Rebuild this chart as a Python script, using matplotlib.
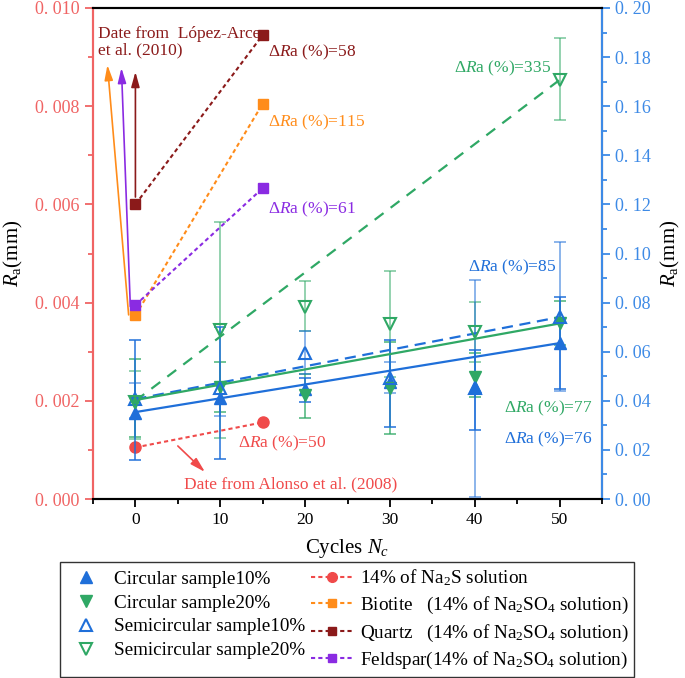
import matplotlib
matplotlib.use("Agg")
import matplotlib.pyplot as plt
from matplotlib.lines import Line2D
from matplotlib.ticker import MultipleLocator, FuncFormatter

plt.rcParams['font.family'] = ['Liberation Serif', 'DejaVu Serif']
plt.rcParams['mathtext.fontset'] = 'custom'
plt.rcParams['mathtext.rm'] = 'Liberation Serif'
plt.rcParams['mathtext.it'] = 'Liberation Serif:italic'
plt.rcParams['mathtext.bf'] = 'Liberation Serif:bold'

# ---------------- data ----------------
cycles = [0, 10, 20, 30, 40, 50]

c10 = [0.0352, 0.0411, 0.0450, 0.0477, 0.0455, 0.0635]
c10_lo = [0.0159, 0.0163, 0.0395, 0.0293, 0.0281, 0.0448]
c10_hi = [0.0648, 0.0700, 0.0493, 0.0648, 0.0607, 0.0823]

c20 = [0.0395, 0.0456, 0.0424, 0.0452, 0.0497, 0.0717]
c20_lo = [0.0253, 0.0354, 0.0330, 0.0265, 0.0415, 0.0627]
c20_hi = [0.0570, 0.0558, 0.0509, 0.0640, 0.0595, 0.0807]

s10 = [0.0407, 0.0452, 0.0595, 0.0493, 0.0452, 0.0741]
s10_lo = [0.0330, 0.0340, 0.0509, 0.0432, 0.0010, 0.0440]
s10_hi = [0.0473, 0.0468, 0.0684, 0.0560, 0.0892, 0.1047]

s20 = [0.0395, 0.0688, 0.0782, 0.0713, 0.0680, 0.1707]
s20_lo = [0.0244, 0.0248, 0.0684, 0.0497, 0.0558, 0.1544]
s20_hi = [0.0521, 0.1128, 0.0888, 0.0929, 0.0802, 0.1878]

trend_x = [0, 50]
trend_c10 = [0.0354, 0.0635]
trend_c20 = [0.0403, 0.0715]
trend_s10 = [0.0407, 0.0741]
trend_s20 = [0.0400, 0.1707]

lit_x = [0, 15]
alonso = [0.00105, 0.00156]
biotite = [0.00374, 0.00805]
quartz = [0.00600, 0.00945]
feldspar = [0.00395, 0.00633]

labels_samples = ["Circular sample10%", "Circular sample20%",
                  "Semicircular sample10%", "Semicircular sample20%"]
labels_lit = ["14% of Na$_2$S solution",
              "Biotite   (14% of Na$_2$SO$_4$ solution)",
              "Quartz   (14% of Na$_2$SO$_4$ solution)",
              "Feldspar(14% of Na$_2$SO$_4$ solution)"]

# ---------------- colors ----------------
BLUE = '#1f6fd9'
GREEN = '#2fa865'
RED = '#f04a4a'
ORANGE = '#ff8c1a'
DRED = '#8b1a1a'
PURPLE = '#8a2be2'
LRED = '#f06464'
LBLUE = '#3d8ae6'

fig = plt.figure(figsize=(6.85, 6.78), dpi=100)
W, H = 685, 678
ax = fig.add_axes([93 / W, 1 - 499 / H, (602 - 93) / W, (499 - 8) / H])
ax2 = ax.twinx()

ax.set_xlim(-5, 55)
ax.set_ylim(0, 0.010)
ax2.set_ylim(0, 0.20)

# ---------------- sample data (right axis) ----------------
def errb(y, lo, hi):
    return [[a - b for a, b in zip(y, lo)], [b - a for a, b in zip(y, hi)]]

ax2.errorbar(cycles, s20, yerr=errb(s20, s20_lo, s20_hi), fmt='none',
             ecolor=GREEN, alpha=0.6, elinewidth=1.2, capsize=4, capthick=1.2, zorder=2)
ax2.errorbar(cycles, c20, yerr=errb(c20, c20_lo, c20_hi), fmt='none',
             ecolor=GREEN, alpha=0.8, elinewidth=1.2, capsize=4, capthick=1.2, zorder=2)
ax2.errorbar(cycles, s10, yerr=errb(s10, s10_lo, s10_hi), fmt='none',
             ecolor=BLUE, alpha=0.6, elinewidth=1.2, capsize=4, capthick=1.2, zorder=2)
ax2.errorbar(cycles, c10, yerr=errb(c10, c10_lo, c10_hi), fmt='none',
             ecolor=BLUE, alpha=0.9, elinewidth=1.2, capsize=4, capthick=1.2, zorder=2)

ax2.plot(trend_x, trend_s20, color=GREEN, lw=1.6, ls=(0, (5, 4)), zorder=3)
ax2.plot(trend_x, trend_s10, color=BLUE, lw=1.6, ls=(0, (5, 3)), zorder=3)
ax2.plot(trend_x, trend_c20, color=GREEN, lw=1.6, zorder=3)
ax2.plot(trend_x, trend_c10, color=BLUE, lw=1.6, zorder=3)

ax2.plot(cycles, c10, ls='none', marker='^', ms=9, color=BLUE, zorder=4)
ax2.plot(cycles, c20, ls='none', marker='v', ms=9, color=GREEN, zorder=4)
ax2.plot(cycles, s10, ls='none', marker='^', ms=9, mfc='none', mec=BLUE, mew=1.5, zorder=5)
ax2.plot(cycles, s20, ls='none', marker='v', ms=9, mfc='none', mec=GREEN, mew=1.5, zorder=5)

# ---------------- literature data (left axis) ----------------
dot = (0, (2, 1.5))
ax.plot(lit_x, alonso, color=RED, ls=dot, lw=1.5, marker='o', ms=8, zorder=3)
ax.plot(lit_x, biotite, color=ORANGE, ls=dot, lw=1.5, marker='s', ms=7, zorder=3)
ax.plot(lit_x, quartz, color=DRED, ls=dot, lw=1.5, marker='s', ms=7, zorder=3)
ax.plot(lit_x, feldspar, color=PURPLE, ls=dot, lw=1.5, marker='s', ms=7, zorder=3)

ap = dict(arrowstyle='-|>,head_length=0.9,head_width=0.25', lw=1.2, shrinkA=0, shrinkB=0)
ax.annotate('', xy=(-3.3, 0.00884), xytext=(-0.8, 0.00375),
            arrowprops=dict(ap, color=ORANGE))
ax.annotate('', xy=(-1.65, 0.00878), xytext=(-0.6, 0.00392),
            arrowprops=dict(ap, color=PURPLE))
ax.annotate('', xy=(0, 0.0087), xytext=(0, 0.00615),
            arrowprops=dict(ap, color=DRED))
ax.annotate('', xy=(8.2, 0.00055), xytext=(5.0, 0.00108),
            arrowprops=dict(ap, color=RED))

fs_t = 12.5
ax.text(-4.4, 0.0093, "Date from  López-Arce\net al. (2010)", color=DRED,
        fontsize=fs_t, va='center', ha='left', linespacing=1.05)
ax.text(18.3, 0.00030, "Date from Alonso et al. (2008)", color=RED,
        fontsize=fs_t, va='center', ha='center')
ax.text(12.1, 0.00114, "Δ$R$a (%)=50", color=RED, fontsize=fs_t, va='center', ha='left')
ax.text(15.6, 0.0091, "Δ$R$a (%)=58", color=DRED, fontsize=fs_t, va='center', ha='left')
ax.text(15.6, 0.00768, "Δ$R$a (%)=115", color=ORANGE, fontsize=fs_t, va='center', ha='left')
ax.text(15.6, 0.0059, "Δ$R$a (%)=61", color=PURPLE, fontsize=fs_t, va='center', ha='left')

ax2.text(49.0, 0.1756, "Δ$R$a (%)=335", color=GREEN, fontsize=fs_t, va='center', ha='right')
ax2.text(49.6, 0.0945, "Δ$R$a (%)=85", color=BLUE, fontsize=fs_t, va='center', ha='right')
ax2.text(53.9, 0.0371, "Δ$R$a (%)=77", color=GREEN, fontsize=fs_t, va='center', ha='right')
ax2.text(53.9, 0.0244, "Δ$R$a (%)=76", color=BLUE, fontsize=fs_t, va='center', ha='right')

# ---------------- axes styling ----------------
ax.xaxis.set_major_locator(MultipleLocator(10))
ax.xaxis.set_minor_locator(MultipleLocator(5))
ax.yaxis.set_major_locator(MultipleLocator(0.002))
ax.yaxis.set_minor_locator(MultipleLocator(0.001))
ax2.yaxis.set_major_locator(MultipleLocator(0.02))
ax2.yaxis.set_minor_locator(MultipleLocator(0.01))

ax.yaxis.set_major_formatter(FuncFormatter(lambda v, p: f"{v:.3f}".replace('.', '. ')))
ax2.yaxis.set_major_formatter(FuncFormatter(lambda v, p: f"{v:.2f}".replace('.', '. ')))

for a in (ax, ax2):
    for s in a.spines.values():
        s.set_linewidth(1.5)
ax.spines['left'].set_color(LRED)
ax2.spines['left'].set_color(LRED)
ax2.spines['right'].set_color(LBLUE)
ax.spines['top'].set_color('black')
ax.spines['bottom'].set_color('black')

ax.tick_params(axis='x', which='major', direction='out', length=6, width=1.3, labelsize=12.5)
ax.tick_params(axis='x', which='minor', direction='out', length=3.5, width=1.3)
ax.tick_params(axis='y', which='major', direction='out', length=6, width=1.3,
               colors=LRED, labelsize=13)
ax.tick_params(axis='y', which='minor', direction='out', length=3.5, width=1.3, colors=LRED)
ax2.tick_params(axis='y', which='major', direction='out', length=6, width=1.3,
                colors=LBLUE, labelsize=13)
ax2.tick_params(axis='y', which='minor', direction='out', length=3.5, width=1.3, colors=LBLUE)

ax.set_xlabel("Cycles $N_c$", fontsize=15, labelpad=6)
ax.set_ylabel("$R_{\\rm a}$(mm)", fontsize=15, labelpad=7, color='black')
ax2.set_ylabel("$R_{\\rm a}$(mm)", fontsize=15, labelpad=6, color='black')

# ---------------- legend ----------------
h_s = [Line2D([], [], ls='none', marker='^', ms=9, color=BLUE),
       Line2D([], [], ls='none', marker='v', ms=9, color=GREEN),
       Line2D([], [], ls='none', marker='^', ms=9, mfc='none', mec=BLUE, mew=1.5),
       Line2D([], [], ls='none', marker='v', ms=9, mfc='none', mec=GREEN, mew=1.5)]
h_l = [Line2D([], [], ls=dot, lw=1.5, marker='o', ms=7, color=RED),
       Line2D([], [], ls=dot, lw=1.5, marker='s', ms=6, color=ORANGE),
       Line2D([], [], ls=dot, lw=1.5, marker='s', ms=6, color=DRED),
       Line2D([], [], ls=dot, lw=1.5, marker='s', ms=6, color=PURPLE)]
leg = fig.legend(h_s + h_l, labels_samples + labels_lit, ncol=2,
                 loc='lower center', bbox_to_anchor=(0.5066, 0.0015),
                 fontsize=13.8, frameon=True, fancybox=False, edgecolor='black',
                 handlelength=2.2, handletextpad=0.35, columnspacing=0.3,
                 labelspacing=0.34, borderpad=0.3, borderaxespad=0)
leg.get_frame().set_linewidth(1.0)

fig.savefig("out.png", dpi=100)
